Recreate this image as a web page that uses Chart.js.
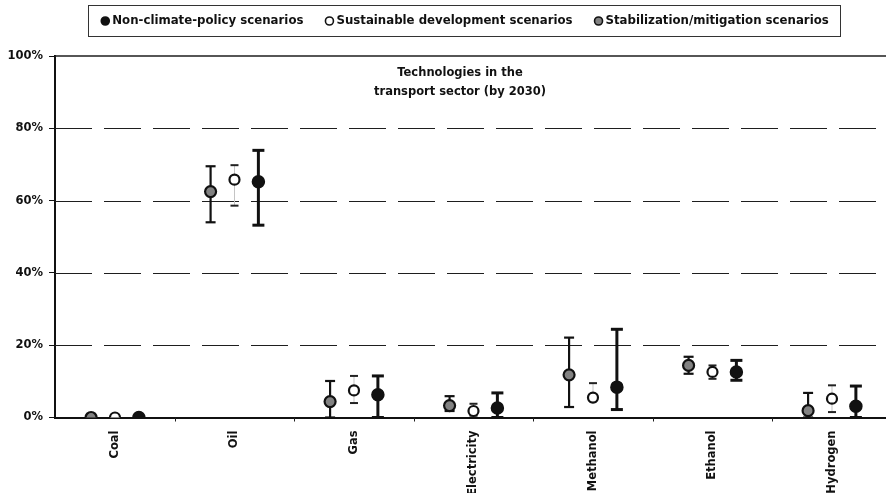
<!DOCTYPE html>
<html>
<head>
<meta charset="utf-8">
<script src="https://cdn.jsdelivr.net/npm/chart.js@4/dist/chart.umd.min.js"></script>
<style>
  html, body { margin: 0; padding: 0; background: #fff; overflow: hidden; }
  canvas { display: block; }
</style>
</head>
<body>
<canvas id="c" width="886" height="493"></canvas>
<script>
// Fuel / technology categories on the x axis
const categories = ['Coal', 'Oil', 'Gas', 'Electricity', 'Methanol', 'Ethanol', 'Hydrogen'];
const yTicks = [0, 20, 40, 60, 80, 100];
const titleLines = ['Technologies in the', 'transport sector (by 2030)'];

// Market share (%) by 2030: median, low end and high end of the range
const nonClimateMid  = [0, 65.2, 6.3, 2.6, 8.4, 12.6, 3.1];
const nonClimateLow  = [0, 53.2, 0, 0, 2.2, 10.3, 0];
const nonClimateHigh = [0, 73.9, 11.5, 6.8, 24.4, 15.8, 8.7];

const sustainableMid  = [0, 65.8, 7.5, 1.8, 5.5, 12.6, 5.2];
const sustainableLow  = [0, 58.6, 4.0, 0.5, 4.5, 10.7, 1.5];
const sustainableHigh = [0, 69.8, 11.5, 3.8, 9.5, 14.4, 8.9];

const stabilizationMid  = [0, 62.5, 4.4, 3.3, 11.8, 14.4, 1.9];
const stabilizationLow  = [0, 54.0, 0, 1.8, 2.9, 12.1, 0];
const stabilizationHigh = [0, 69.5, 10.1, 5.9, 22.1, 16.8, 6.8];

const FONT = '"DejaVu Sans", "Liberation Sans", Arial, sans-serif';
const FONT_SIZE = 11.5;

function points(mid, low, high, shift) {
  return mid.map((v, i) => ({ x: i + shift, y: v, lo: low[i], hi: high[i] }));
}

const datasets = [
  {
    label: 'Non-climate-policy scenarios',
    data: points(nonClimateMid, nonClimateLow, nonClimateHigh, 0.2),
    backgroundColor: '#111', borderColor: '#111', pointRadius: 6, borderWidth: 1.5,
    bar: { width: 3, cap: 12, color: '#111' }
  },
  {
    label: 'Sustainable development scenarios',
    data: points(sustainableMid, sustainableLow, sustainableHigh, 0),
    backgroundColor: '#fff', borderColor: '#111', pointRadius: 5, borderWidth: 2.2,
    bar: { width: 1, cap: 8, color: '#c4c4c4', capColor: '#222', capWidth: 2 }
  },
  {
    label: 'Stabilization/mitigation scenarios',
    data: points(stabilizationMid, stabilizationLow, stabilizationHigh, -0.2),
    backgroundColor: '#828282', borderColor: '#111', pointRadius: 5.5, borderWidth: 2.2,
    bar: { width: 2.2, cap: 10, color: '#111' }
  }
];

// Dashed gridlines, frame lines, axis ticks between categories, range bars
const decorations = {
  id: 'decorations',
  beforeDatasetsDraw(chart) {
    const { ctx, chartArea: a, scales: { x, y } } = chart;
    ctx.save();
    ctx.strokeStyle = '#1e1e1e';
    ctx.lineWidth = 1.2;
    ctx.setLineDash([37, 12]);
    y.ticks.forEach(t => {
      if (t.value <= 0 || t.value >= 100) return;
      const py = Math.round(y.getPixelForValue(t.value)) + 0.5;
      ctx.beginPath(); ctx.moveTo(a.left, py); ctx.lineTo(a.right, py); ctx.stroke();
    });
    ctx.setLineDash([]);
    // solid top line at 100%
    ctx.lineWidth = 1.5;
    const top = y.getPixelForValue(100);
    ctx.beginPath(); ctx.moveTo(a.left, top); ctx.lineTo(a.right, top); ctx.stroke();
    // small ticks below the axis between categories
    ctx.lineWidth = 1;
    for (let k = 0; k < categories.length - 1; k++) {
      const px = Math.round(x.getPixelForValue(k + 0.5)) + 0.5;
      ctx.beginPath(); ctx.moveTo(px, a.bottom); ctx.lineTo(px, a.bottom + 4); ctx.stroke();
    }
    // range bars
    chart.data.datasets.forEach(ds => {
      const b = ds.bar;
      ds.data.forEach(p => {
        if (p.lo === p.hi) return;
        const px = x.getPixelForValue(p.x);
        const yl = y.getPixelForValue(p.lo);
        const yh = y.getPixelForValue(p.hi);
        ctx.strokeStyle = b.color;
        ctx.lineWidth = b.width;
        ctx.beginPath(); ctx.moveTo(px, yl); ctx.lineTo(px, yh); ctx.stroke();
        ctx.strokeStyle = b.capColor || b.color;
        ctx.lineWidth = b.capWidth || b.width;
        [yl, yh].forEach(yy => {
          ctx.beginPath(); ctx.moveTo(px - b.cap / 2, yy); ctx.lineTo(px + b.cap / 2, yy); ctx.stroke();
        });
      });
    });
    ctx.restore();
  },
  afterDraw(chart) {
    const { ctx } = chart;
    ctx.save();
    // title inside the plot
    ctx.fillStyle = '#111';
    ctx.font = 'bold ' + FONT_SIZE + 'px ' + FONT;
    ctx.textAlign = 'center';
    ctx.textBaseline = 'middle';
    titleLines.forEach((t, i) => ctx.fillText(t, 460, 73.5 + i * 19));
    // boxed legend
    ctx.strokeStyle = '#333';
    ctx.lineWidth = 1;
    ctx.strokeRect(88.5, 5.5, 752, 31);
    ctx.font = 'bold 11.75px ' + FONT;
    const gap = 22, markerGap = 6;
    const widths = chart.data.datasets.map(d => ctx.measureText(d.label).width);
    const total = widths.reduce((s, w) => s + w + markerGap + 5, 0) + gap * (widths.length - 1);
    let cx = 465 - total / 2;
    const cy = 21;
    ctx.textAlign = 'left';
    chart.data.datasets.forEach((d, i) => {
      ctx.beginPath();
      ctx.arc(cx + 4, cy, 4, 0, Math.PI * 2);
      ctx.fillStyle = d.backgroundColor; ctx.fill();
      ctx.lineWidth = 1.6; ctx.strokeStyle = '#111'; ctx.stroke();
      ctx.fillStyle = '#111';
      ctx.fillText(d.label, cx + 5 + markerGap, cy);
      cx += 5 + markerGap + widths[i] + gap;
    });
    ctx.restore();
  }
};

new Chart(document.getElementById('c'), {
  type: 'scatter',
  data: { datasets },
  plugins: [decorations],
  options: {
    responsive: false,
    animation: false,
    layout: { autoPadding: false, padding: { top: 56, left: 0, right: 0, bottom: 0 } },
    plugins: { legend: { display: false }, title: { display: false }, tooltip: { enabled: false } },
    scales: {
      x: {
        type: 'linear',
        min: -0.502,
        max: categories.length - 0.548,
        afterBuildTicks: s => { s.ticks = categories.map((_, i) => ({ value: i })); },
        afterFit: s => { s.height = 75.5; s.paddingLeft = 0; s.paddingRight = 0; },
        grid: { display: false },
        border: { display: true, color: '#111', width: 2 },
        ticks: {
          autoSkip: false, minRotation: 90, maxRotation: 90, padding: 5,
          color: '#111', font: { family: FONT, size: FONT_SIZE, weight: 'bold' },
          callback: v => categories[v] ?? ''
        }
      },
      y: {
        min: 0,
        max: 100,
        afterBuildTicks: s => { s.ticks = yTicks.map(v => ({ value: v })); },
        afterFit: s => { s.width = 55; s.paddingTop = 0; s.paddingBottom = 0; },
        grid: { display: true, drawOnChartArea: false, drawTicks: true, tickLength: 6, color: '#111', lineWidth: 1 },
        border: { display: true, color: '#111', width: 2 },
        ticks: {
          padding: 6, color: '#111', font: { family: FONT, size: FONT_SIZE, weight: 'bold' },
          callback: v => v + '%'
        }
      }
    }
  }
});
</script>
</body>
</html>
